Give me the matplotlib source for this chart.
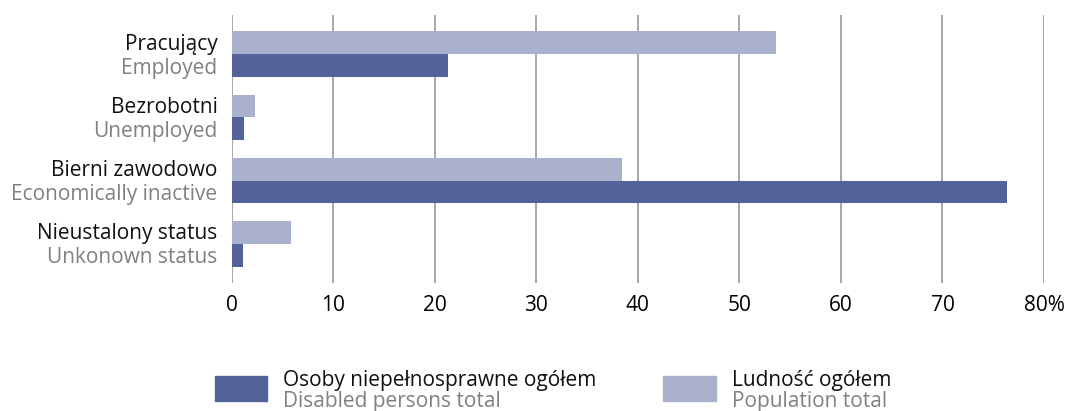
import matplotlib
matplotlib.use("Agg")
import matplotlib.pyplot as plt
import numpy as np

categories_pl = ["Pracujący", "Bezrobotni", "Bierni zawodowo", "Nieustalony status"]
categories_en = ["Employed", "Unemployed", "Economically inactive", "Unkonown status"]
population_total = [53.6, 2.3, 38.4, 5.9]
disabled_total = [21.3, 1.2, 76.4, 1.1]
xticks = [0, 10, 20, 30, 40, 50, 60, 70, 80]
xtick_labels = ["0", "10", "20", "30", "40", "50", "60", "70", "80%"]
legend_pl = ["Osoby niepełnosprawne ogółem", "Ludność ogółem"]
legend_en = ["Disabled persons total", "Population total"]

DARK = "#53639a"
LIGHT = "#a9b1cc"
GREY_TXT = "#808080"
FONT = ["Open Sans", "DejaVu Sans"]
plt.rcParams["font.family"] = FONT
FS = 15

W, H = 1077, 411
fig = plt.figure(figsize=(W / 100, H / 100), dpi=100)
ax = fig.add_axes([231.5 / W, 1 - 283 / H, (1044 - 231.5) / W, (283 - 15) / H])

y = np.arange(len(categories_pl))
bh = 0.36
ax.barh(y - bh / 2, population_total, height=bh, color=LIGHT, zorder=3)
ax.barh(y + bh / 2, disabled_total, height=bh, color=DARK, zorder=3)

ax.set_xlim(0, 80)
ax.set_ylim(3.62, -0.62)
ax.set_xticks(xticks)
ax.set_xticklabels(xtick_labels, fontsize=FS)
ax.set_yticks([])
for v in xticks:
    ax.axvline(v, color="#8f8f8f", lw=1.1, zorder=1)
for s in ax.spines.values():
    s.set_visible(False)
ax.tick_params(axis="x", length=0, pad=8.5)

for i in range(len(categories_pl)):
    ax.annotate(categories_pl[i], xy=(0, i - 0.19), xycoords=("axes fraction", "data"),
                xytext=(-10, -1.5), textcoords="offset points", ha="right", va="center",
                fontsize=FS, color="#111111")
    ax.annotate(categories_en[i], xy=(0, i + 0.19), xycoords=("axes fraction", "data"),
                xytext=(-10, -1.5), textcoords="offset points", ha="right", va="center",
                fontsize=FS, color=GREY_TXT)

# legend
def fx(px):
    return px / W

def fy(py):
    return 1 - py / H

for (x0, x1, col, tpl, ten) in [(215, 267, DARK, legend_pl[0], legend_en[0]),
                                 (663, 716, LIGHT, legend_pl[1], legend_en[1])]:
    fig.patches.append(matplotlib.patches.Rectangle((fx(x0), fy(401)), fx(x1) - fx(x0), fy(376) - fy(401),
                                                    transform=fig.transFigure, color=col))
    fig.text(fx(x1 + 16), fy(380), tpl, fontsize=FS, color="#111111", va="center", ha="left")
    fig.text(fx(x1 + 16), fy(401), ten, fontsize=FS, color=GREY_TXT, va="center", ha="left")

fig.savefig("out.png", dpi=100)
